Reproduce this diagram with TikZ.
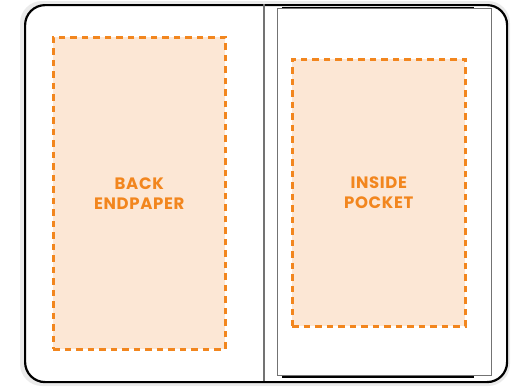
\documentclass[tikz,border=0pt]{standalone}
\usepackage{fontspec}
\setmainfont{Poppins}
\newfontfamily\rotulofonte[LetterSpace=4]{Poppins}
\usepackage{tikz}
\usetikzlibrary{positioning, calc, shadows}
\definecolor{laranja}{HTML}{F2861E}
\definecolor{pessego}{HTML}{FCE7D5}
\definecolor{sombra}{HTML}{D8D8D8}

\begin{document}
\begin{tikzpicture}[x=1pt, y=-1pt,
    capa/.style={draw, line width=2.2pt, rounded corners=20pt, fill=white},
    bolso/.style={draw=black!55, line width=0.8pt, fill=white},
    area/.style={draw=laranja, fill=pessego, line width=2.5pt,
                 dash pattern=on 6.5pt off 5pt, inner sep=0pt},
    rotulo/.style={text=laranja, font=\rotulofonte\fontsize{16.5}{20}\selectfont\bfseries, align=center}
]
    \useasboundingbox (0,0) rectangle (513,388);
    % sombra da capa
    \fill[sombra, opacity=0.5, rounded corners=22pt] (20,1) rectangle (510,386);
    \node[capa, minimum width=482pt, minimum height=377pt, anchor=north west] (capa) at (24,4) {};
    \draw[black!55, line width=1.2pt] (264,4) coordinate (lomba) -- (264,381);

    % bolso interno
    \node[bolso, minimum width=214pt, minimum height=367pt, anchor=north west] (bolso) at (277,8) {};
    \draw[line width=1pt] ($(bolso.north west)+(5,-1)$) -- ($(bolso.north east)+(-18,-1)$);
    \draw[line width=1.6pt] ($(bolso.south west)+(5,1)$) -- ($(bolso.south east)+(-18,1)$);

    % areas tracejadas
    \node[area, minimum width=172pt, minimum height=312pt, anchor=north west] (guarda) at (52,36) {};
    \node[area, minimum width=173pt, minimum height=267pt, anchor=north west] (interno) at (291,58) {};

    \node[rotulo] at (guarda.center) {BACK\\ENDPAPER};
    \node[rotulo] at (interno.center) {INSIDE\\POCKET};
\end{tikzpicture}
\end{document}
